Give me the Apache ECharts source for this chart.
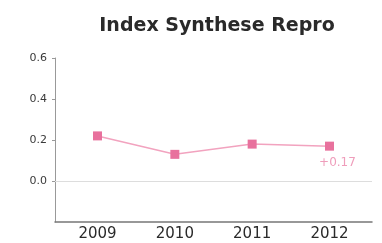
<!DOCTYPE html>
<html><head><meta charset="utf-8">
<script src="https://cdn.jsdelivr.net/npm/echarts@6/dist/echarts.min.js"></script>
<style>html,body{margin:0;padding:0;background:#fff}#c{width:382px;height:243px}</style>
</head><body><div id="c"></div>
<script>
const years = [2009, 2010, 2011, 2012];
const values = [0.22, 0.13, 0.18, 0.17];
const yTicks = [0, 0.2, 0.4, 0.6];
const lastLabel = '+0.17';

const chart = echarts.init(document.getElementById('c'), null, {renderer: 'canvas'});
chart.setOption({
  animation: false,
  title: {
    text: 'Index Synthese Repro', left: 212, top: 12, textAlign: 'center',
    textStyle: {fontFamily: 'DejaVu Sans', fontWeight: 'bold', fontSize: 19, color: '#2a2a2a'}
  },
  grid: {left: 55, right: 10, top: 58, bottom: 21, containLabel: false},
  xAxis: {
    type: 'value', min: 2008.45, max: 2012.55,
    axisLine: {onZero: false, lineStyle: {color: '#777', width: 1.5}},
    axisTick: {show: false},
    splitLine: {show: false},
    axisLabel: {customValues: years, color: '#2a2a2a', fontSize: 15, fontFamily: 'DejaVu Sans', margin: 5,
      formatter: v => String(v)}
  },
  yAxis: {
    type: 'value', min: -0.2, max: 0.6,
    axisLine: {show: true, lineStyle: {color: '#999', width: 1}},
    axisTick: {show: true, length: 3, customValues: yTicks, lineStyle: {color: '#999'}},
    splitLine: {show: false},
    axisLabel: {customValues: yTicks, color: '#3a3a3a', fontSize: 11, fontFamily: 'DejaVu Sans', margin: 8,
      formatter: v => v.toFixed(1)}
  },
  series: [{
    type: 'line',
    data: years.map((y, i) => [y, values[i]]),
    symbol: 'rect', symbolSize: 9,
    itemStyle: {color: '#e8719d'},
    lineStyle: {color: '#f2a3bf', width: 1.5},
    label: {
      show: true, position: 'bottom', distance: 6, offset: [8, 0],
      color: '#ef9dbb', fontSize: 12, fontFamily: 'DejaVu Sans',
      formatter: p => p.dataIndex === years.length - 1 ? lastLabel : ''
    },
    markLine: {
      silent: true, symbol: 'none', label: {show: false},
      lineStyle: {color: '#ddd', type: 'solid', width: 1},
      data: [{yAxis: 0}]
    }
  }]
});
</script></body></html>
